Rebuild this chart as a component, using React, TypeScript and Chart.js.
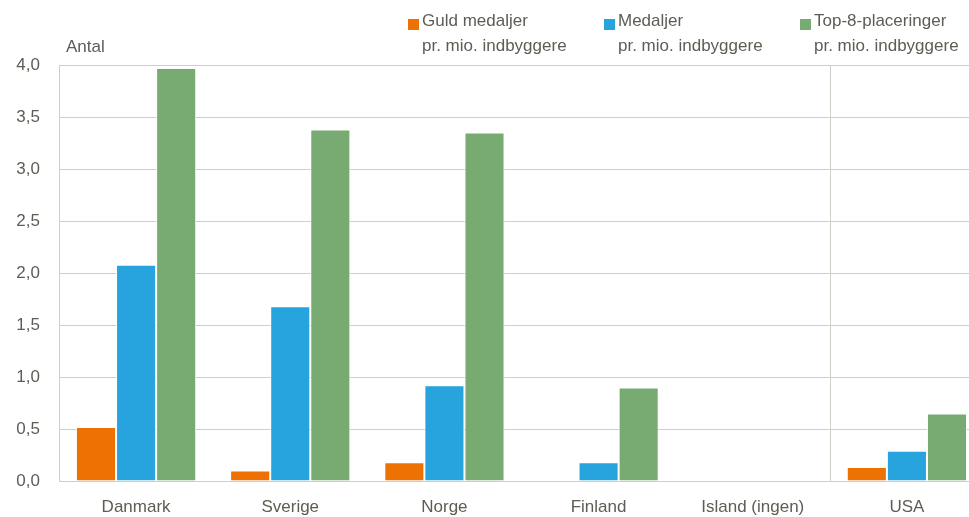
import React, { useEffect, useRef } from "react";
import { Chart, registerables } from "chart.js";

Chart.register(...registerables);

const categories = ["Danmark", "Sverige", "Norge", "Finland", "Island (ingen)", "USA"];
const guld = [0.52, 0.1, 0.18, 0, 0, 0.135];
const medaljer = [2.08, 1.68, 0.92, 0.18, 0, 0.29];
const top8 = [3.97, 3.38, 3.35, 0.9, 0, 0.65];
const seriesLabels = [
  ["Guld medaljer", "pr. mio. indbyggere"],
  ["Medaljer", "pr. mio. indbyggere"],
  ["Top-8-placeringer", "pr. mio. indbyggere"],
];
const colors = ["#EE7203", "#27A3DD", "#77AB72"];
const yTitle = "Antal";

const FONT = "'Liberation Sans', Arial, sans-serif";
const TEXT = "#5d5d55";
const GRID = "#cfcfc7";

const overlay = {
  id: "overlay",
  afterDraw(chart: any) {
    const ctx = chart.ctx;
    const area = chart.chartArea;
    const xs = chart.scales.x;
    ctx.save();
    // separator between Island and USA
    const sx = Math.round((xs.getPixelForValue(4) + xs.getPixelForValue(5)) / 2) + 0.5;
    ctx.strokeStyle = GRID;
    ctx.lineWidth = 1;
    ctx.beginPath();
    ctx.moveTo(sx, area.top);
    ctx.lineTo(sx, area.bottom);
    ctx.stroke();
    // y title
    ctx.fillStyle = TEXT;
    ctx.font = `17px ${FONT}`;
    ctx.textAlign = "left";
    ctx.textBaseline = "middle";
    ctx.fillText(yTitle, area.left + 7, 47);
    // legend
    const lx = [408, 604, 800];
    seriesLabels.forEach((lines, i) => {
      ctx.fillStyle = colors[i];
      ctx.fillRect(lx[i], 19, 11, 11);
      ctx.fillStyle = TEXT;
      ctx.fillText(lines[0], lx[i] + 14, 21);
      ctx.fillText(lines[1], lx[i] + 14, 46);
    });
    ctx.restore();
  },
};

export default function App() {
  const ref = useRef<HTMLCanvasElement>(null);
  useEffect(() => {
    if (!ref.current) return;
    const chart = new Chart(ref.current, {
      type: "bar",
      data: {
        labels: categories,
        datasets: [guld, medaljer, top8].map((d, i) => ({
          label: seriesLabels[i].join(" "),
          data: d,
          backgroundColor: colors[i],
          borderColor: "rgba(255,255,255,0.85)",
          borderWidth: 1,
          barPercentage: 1,
          categoryPercentage: 0.78,
        })),
      },
      options: {
        animation: false,
        responsive: true,
        maintainAspectRatio: false,
        layout: { padding: { top: 65, right: 16, left: 0, bottom: 0 } },
        plugins: { legend: { display: false }, tooltip: { enabled: false } },
        scales: {
          x: {
            grid: { display: false, drawTicks: false },
            border: { display: true, color: GRID, width: 1 },
            ticks: { color: TEXT, font: { family: FONT, size: 17 }, padding: 16, maxRotation: 0 },
            afterFit(s: any) { s.height = 36; },
          },
          y: {
            min: 0,
            max: 4,
            ticks: {
              stepSize: 0.5,
              color: TEXT,
              font: { family: FONT, size: 17 },
              padding: 19,
              callback: (v: any) => Number(v).toFixed(1).replace(".", ","),
            },
            grid: { color: GRID, drawTicks: false },
            border: { display: true, color: GRID, width: 1 },
            afterFit(s: any) { s.width = 59; },
          },
        },
      },
      plugins: [overlay],
    });
    return () => chart.destroy();
  }, []);
  return (
    <div style={{ position: "fixed", left: 0, top: 0, width: 969, height: 517, overflow: "hidden", background: "#fff" }}>
      <div style={{ position: "relative", width: 1000, height: 517 }}>
        <canvas ref={ref} />
      </div>
    </div>
  );
}
